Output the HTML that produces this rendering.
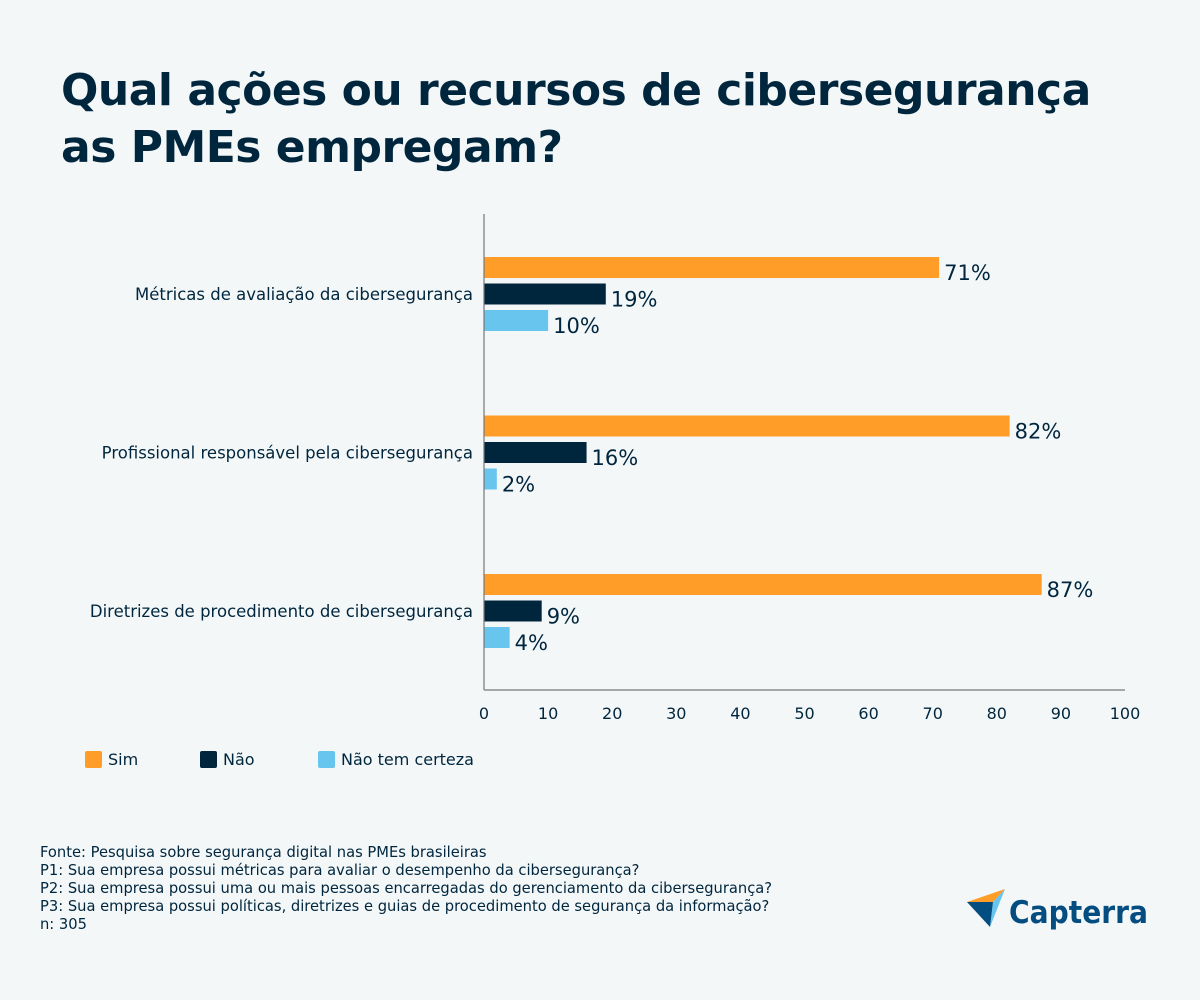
<!DOCTYPE html>
<html><head><meta charset="utf-8"><style>
body{margin:0;background:#f3f7f8;font-family:"DejaVu Sans","Liberation Sans",sans-serif;}
#root{position:relative;width:1200px;height:1000px;background:#f3f7f8;overflow:hidden;}
h1{position:absolute;left:61px;top:62px;margin:0;font-size:44px;line-height:57px;color:#00263e;font-weight:bold;letter-spacing:-0.5px;}
.foot{position:absolute;left:40px;top:844px;font-size:14.7px;line-height:18px;color:#00263e;}
</style></head><body>
<div id="root">
<h1>Qual ações ou recursos de cibersegurança<br>as PMEs empregam?</h1>
<svg id="chart" width="1200" height="1000" style="position:absolute;left:0;top:0"></svg>
<div class="foot">Fonte: Pesquisa sobre segurança digital nas PMEs brasileiras<br>P1: Sua empresa possui métricas para avaliar o desempenho da cibersegurança?<br>P2: Sua empresa possui uma ou mais pessoas encarregadas do gerenciamento da cibersegurança?<br>P3: Sua empresa possui políticas, diretrizes e guias de procedimento de segurança da informação?<br>n: 305</div>
<svg width="200" height="60" style="position:absolute;left:960px;top:880px">
<polygon points="7,22 45,9 33,22" fill="#ff9d28"/>
<polygon points="33,22 45,9 30,47" fill="#68c5ed"/>
<polygon points="7,22 33,22 30,47" fill="#044d80"/>
<text x="49" y="43" font-size="31" font-weight="bold" fill="#044d80" textLength="139" lengthAdjust="spacingAndGlyphs" font-family="DejaVu Sans, sans-serif">Capterra</text>
</svg>
</div>
<script>
const categories=["Métricas de avaliação da cibersegurança","Profissional responsável pela cibersegurança","Diretrizes de procedimento de cibersegurança"];
const seriesNames=["Sim","Não","Não tem certeza"];
const sim=[71,82,87];
const nao=[19,16,9];
const incerto=[10,2,4];
const ticks=[0,10,20,30,40,50,60,70,80,90,100];
const colors=["#ff9d28","#00263e","#68c5ed"];
const svg=document.getElementById('chart');
const NS="http://www.w3.org/2000/svg";
const x=v=>484+v*6.41;
function mk(t,a){const e=document.createElementNS(NS,t);for(const k in a)e.setAttribute(k,a[k]);svg.appendChild(e);return e;}
const series=[sim,nao,incerto];
categories.forEach((c,i)=>{
  const gy=257+i*158.5;
  const t=mk('text',{x:473,y:gy+43,'text-anchor':'end','font-size':16.5,fill:'#00263e'});t.textContent=c;
  
  
  series.forEach((s,j)=>{
    const y=gy+j*26.5;
    const r=mk('rect',{x:x(0),y:y,width:x(s[i])-x(0),height:21,fill:colors[j]});
    
    
    const l=mk('text',{x:x(s[i])+5,y:y+23,'font-size':21,fill:'#00263e'});l.textContent=s[i]+'%';
    
    
  });
});
const ya=mk('line',{x1:484,y1:214,x2:484,y2:690,stroke:'#777','stroke-width':1.2});


const xa=mk('line',{x1:484,y1:690,x2:1125,y2:690,stroke:'#777','stroke-width':1.2});


ticks.forEach(v=>{const t=mk('text',{x:x(v),y:719,'text-anchor':'middle','font-size':16,fill:'#00263e'});t.textContent=v;
  
  });
const lx=[85,200,318];
seriesNames.forEach((n,j)=>{
  const r=mk('rect',{x:lx[j],y:751,width:17,height:17,rx:2,fill:colors[j]});
  
  
  const t=mk('text',{x:lx[j]+23,y:765,'font-size':16,fill:'#00263e'});t.textContent=n;
  
  
});
</script>
</body></html>
